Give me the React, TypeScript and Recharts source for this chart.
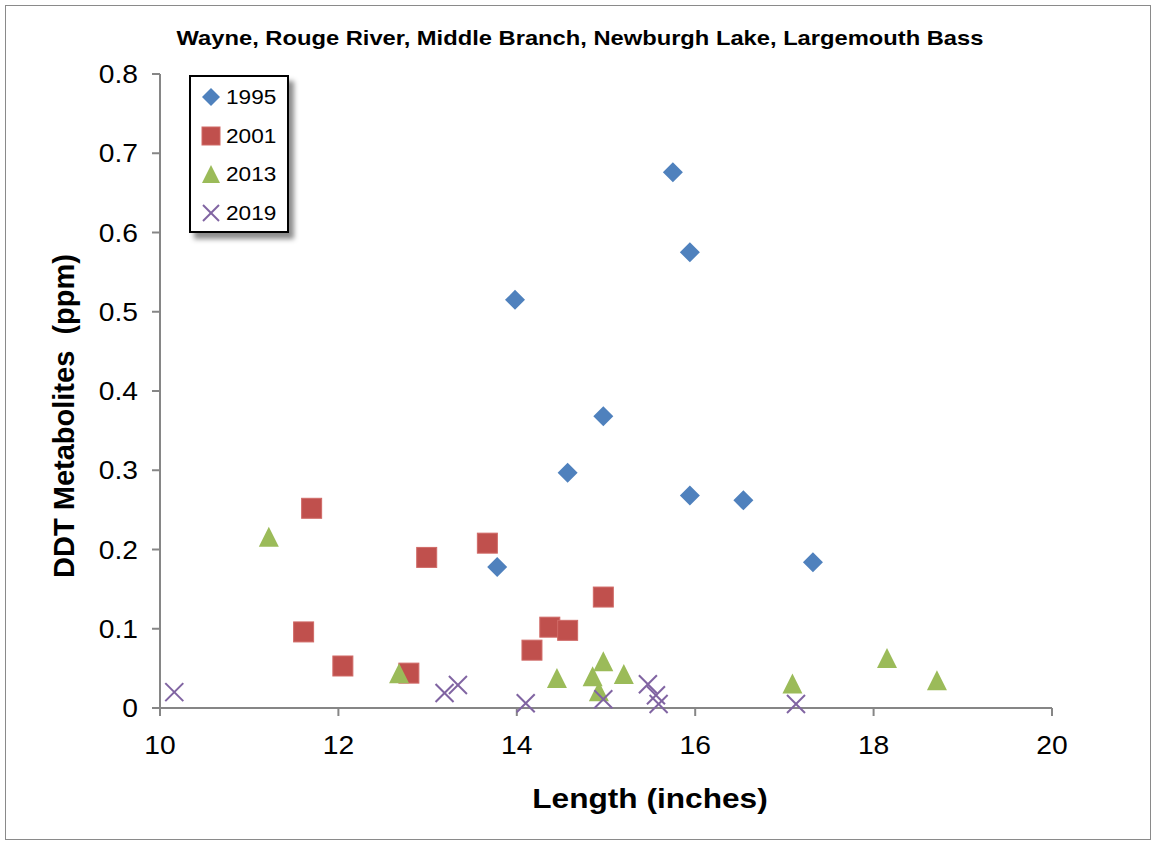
import React from 'react';
import { ScatterChart, Scatter, XAxis, YAxis } from 'recharts';

const len1995 = [15.75, 15.94, 13.98, 14.97, 14.57, 15.94, 16.54, 13.78, 17.32];
const ddt1995 = [0.676, 0.575, 0.515, 0.368, 0.297, 0.268, 0.262, 0.178, 0.184];

const len2001 = [11.7, 13.67, 12.99, 11.61, 12.05, 12.79, 14.37, 14.57, 14.17, 14.97];
const ddt2001 = [0.252, 0.208, 0.19, 0.096, 0.053, 0.044, 0.102, 0.098, 0.073, 0.14];

const len2013 = [11.22, 12.68, 14.45, 14.85, 14.92, 14.97, 15.2, 17.09, 18.15, 18.71];
const ddt2013 = [0.216, 0.044, 0.038, 0.04, 0.021, 0.059, 0.043, 0.031, 0.063, 0.035];

const len2019 = [10.16, 13.19, 13.34, 14.1, 14.97, 15.47, 15.56, 15.59, 17.13];
const ddt2019 = [0.02, 0.019, 0.029, 0.006, 0.011, 0.03, 0.016, 0.005, 0.005];

const xTicks = [10, 12, 14, 16, 18, 20];
const yTicks = [0, 0.1, 0.2, 0.3, 0.4, 0.5, 0.6, 0.7, 0.8];

const toPoints = (xs: number[], ys: number[]) => xs.map((x, i) => ({ x, y: ys[i] }));

const BLUE = '#4f81bd';
const RED = '#c0504d';
const GREEN = '#9bbb59';
const PURPLE = '#8064a2';
const AXIS = '#868686';
const FONT = '"Liberation Sans", Arial, sans-serif';
const STRETCH = 1.13;

const Diamond = ({ cx, cy, s = 10 }: any) => (
  <path d={`M${cx},${cy - s} L${cx + s},${cy} L${cx},${cy + s} L${cx - s},${cy} Z`} fill={BLUE} />
);
const Square = ({ cx, cy, s = 10 }: any) => (
  <rect x={cx - s} y={cy - s} width={s * 2} height={s * 2} fill={RED} stroke="#d06a67" strokeWidth={1} />
);
const Triangle = ({ cx, cy, s = 10 }: any) => (
  <path d={`M${cx},${cy - s} L${cx + s},${cy + s} L${cx - s},${cy + s} Z`} fill={GREEN} />
);
const Cross = ({ cx, cy, s = 9 }: any) => (
  <g stroke={PURPLE} strokeWidth={2}>
    <line x1={cx - s} y1={cy - s} x2={cx + s} y2={cy + s} />
    <line x1={cx - s} y1={cy + s} x2={cx + s} y2={cy - s} />
  </g>
);

const XTick = ({ x, y, payload }: any) => (
  <g transform={`translate(${x},${y})`}>
    <text transform={`scale(${STRETCH},1)`} y={36} textAnchor="middle" fontSize={25} fontFamily={FONT} fill="#000">
      {payload.value}
    </text>
  </g>
);

const YTick = ({ x, y, payload }: any) => (
  <g transform={`translate(${x - 12},${y})`}>
    <text transform={`scale(${STRETCH},1)`} y={9} textAnchor="end" fontSize={25} fontFamily={FONT} fill="#000">
      {payload.value}
    </text>
  </g>
);

const legendItems = [
  { label: '1995', icon: <Diamond cx={10} cy={10} s={9} /> },
  { label: '2001', icon: <Square cx={10} cy={10} s={9} /> },
  { label: '2013', icon: <Triangle cx={10} cy={10} s={9} /> },
  { label: '2019', icon: <Cross cx={10} cy={10} s={8} /> },
];

export default function App() {
  return (
    <div style={{ position: 'absolute', left: 0, top: 0, width: 1156, height: 842, background: '#fff' }}>
      <div
        style={{
          position: 'absolute', left: 5, top: 5, width: 1144, height: 833,
          border: '1.5px solid #8a8a8a',
        }}
      />
      <ScatterChart width={1156} height={842} margin={{ top: 74, right: 104, bottom: 84, left: 60 }}>
        <XAxis
          type="number" dataKey="x" domain={[10, 20]} ticks={xTicks} height={50}
          stroke={AXIS} strokeWidth={2} tickSize={8} tick={<XTick />} interval={0}
        />
        <YAxis
          type="number" dataKey="y" domain={[0, 0.8]} ticks={yTicks} width={100}
          stroke={AXIS} strokeWidth={2} tickSize={8} tick={<YTick />} interval={0}
        />
        <Scatter name="1995" data={toPoints(len1995, ddt1995)} shape={(p: any) => <Diamond cx={p.cx} cy={p.cy} />} isAnimationActive={false} />
        <Scatter name="2001" data={toPoints(len2001, ddt2001)} shape={(p: any) => <Square cx={p.cx} cy={p.cy} />} isAnimationActive={false} />
        <Scatter name="2013" data={toPoints(len2013, ddt2013)} shape={(p: any) => <Triangle cx={p.cx} cy={p.cy} />} isAnimationActive={false} />
        <Scatter name="2019" data={toPoints(len2019, ddt2019)} shape={(p: any) => <Cross cx={p.cx} cy={p.cy} />} isAnimationActive={false} />
      </ScatterChart>

      <svg width={1156} height={842} style={{ position: 'absolute', left: 0, top: 0, pointerEvents: 'none' }}>
        <text
          transform={`translate(580,45) scale(${STRETCH},1)`} textAnchor="middle"
          fontSize={21} fontWeight="bold" fontFamily={FONT}
        >
          Wayne, Rouge River, Middle Branch, Newburgh Lake, Largemouth Bass
        </text>
        <text
          transform={`translate(650,808) scale(${STRETCH},1)`} textAnchor="middle"
          fontSize={28} fontWeight="bold" fontFamily={FONT}
        >
          Length (inches)
        </text>
        <text
          transform="translate(74,416) rotate(-90)" textAnchor="middle"
          fontSize={29} fontWeight="bold" fontFamily={FONT} style={{ whiteSpace: 'pre' }}
        >
          {'DDT Metabolites  (ppm)'}
        </text>
      </svg>

      <div
        style={{
          position: 'absolute', left: 189, top: 75, width: 96, height: 154,
          border: '2px solid #000', background: '#fff',
          boxShadow: '5px 6px 5px rgba(0,0,0,0.45)',
        }}
      >
        {legendItems.map((it, i) => (
          <div key={it.label} style={{ position: 'absolute', left: 10, top: 10 + i * 38.7, height: 20, display: 'flex', alignItems: 'center' }}>
            <svg width={20} height={20}>{it.icon}</svg>
            <span
              style={{
                marginLeft: 5, fontSize: 20, fontFamily: FONT, display: 'inline-block',
                transform: `scaleX(${STRETCH})`, transformOrigin: 'left center', lineHeight: '20px',
              }}
            >
              {it.label}
            </span>
          </div>
        ))}
      </div>
    </div>
  );
}
